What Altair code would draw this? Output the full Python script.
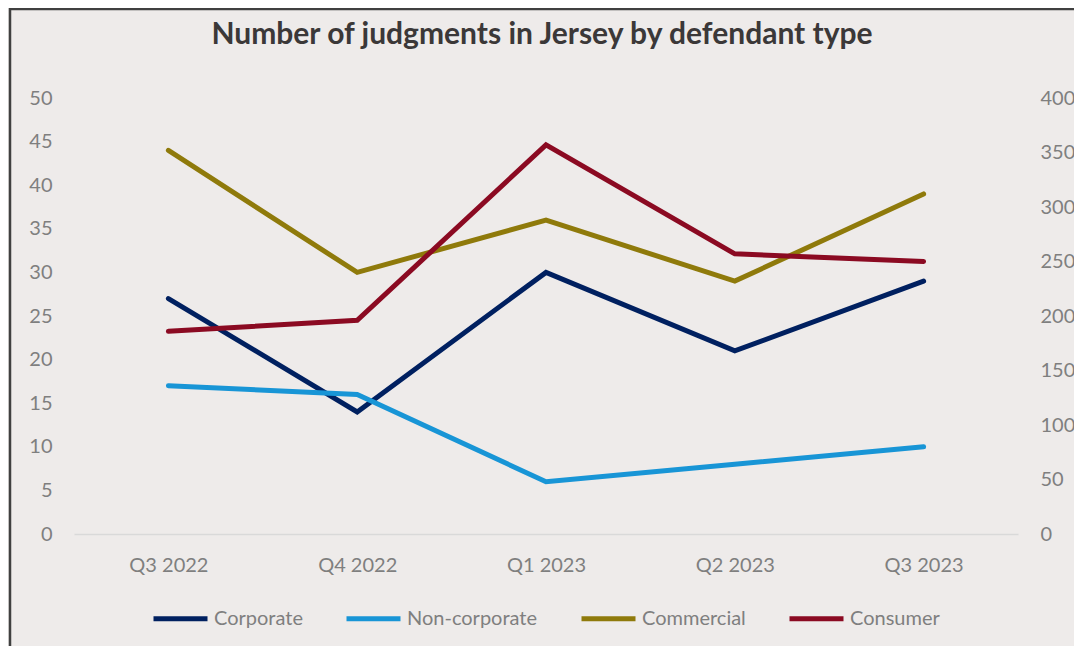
import altair as alt
import pandas as pd

quarters = ["Q3 2022", "Q4 2022", "Q1 2023", "Q2 2023", "Q3 2023"]
corporate = [27, 14, 30, 21, 29]
non_corporate = [17, 16, 6, 8, 10]
commercial = [44, 30, 36, 29, 39]
consumer = [186, 196, 357, 257, 250]

series_names = ["Corporate", "Non-corporate", "Commercial", "Consumer"]
series_colors = ["#002060", "#1895D6", "#8F7A0B", "#8B0A22"]

rows = []
for name, vals in zip(series_names, [corporate, non_corporate, commercial, consumer]):
    for q, v in zip(quarters, vals):
        rows.append({"quarter": q, "series": name, "value": v})
df = pd.DataFrame(rows)

FONT = "Lato"
GRAY = "#7f7f7f"
BG = "#EEEBEA"

x_enc = alt.X("quarter:N", sort=quarters, title=None,
              axis=alt.Axis(labelAngle=0, ticks=False, domainColor="#d9d9d9", domainWidth=1.5,
                            labelFontSize=20, labelColor=GRAY, labelFont=FONT, labelPadding=21))
color_enc = alt.Color("series:N", sort=series_names,
                      scale=alt.Scale(domain=series_names, range=series_colors),
                      legend=alt.Legend(orient="none", legendX=77, legendY=491, direction="horizontal",
                                        title=None, symbolType="stroke", symbolSize=2916,
                                        symbolStrokeWidth=5, labelFontSize=20, labelColor=GRAY,
                                        labelFont=FONT, columnPadding=33, labelOffset=4))

base = alt.Chart(df)

left = base.transform_filter(alt.datum.series != "Consumer").mark_line(strokeWidth=5, strokeCap="round").encode(
    x=x_enc,
    y=alt.Y("value:Q", title=None, scale=alt.Scale(domain=[0, 50], nice=False),
            axis=alt.Axis(values=list(range(0, 51, 5)), grid=False, domain=False, ticks=False,
                          labelFontSize=20, labelColor=GRAY, labelFont=FONT, labelPadding=22)),
    color=color_enc,
)

right = base.transform_filter(alt.datum.series == "Consumer").mark_line(strokeWidth=5, strokeCap="round").encode(
    x=x_enc,
    y=alt.Y("value:Q", title=None, scale=alt.Scale(domain=[0, 400], nice=False),
            axis=alt.Axis(orient="right", values=list(range(0, 401, 50)), grid=False, domain=False,
                          ticks=False, labelFontSize=20, labelColor=GRAY, labelFont=FONT, labelPadding=22)),
    color=color_enc,
)

border = alt.Chart(pd.DataFrame({"a": [0]})).mark_rect(fillOpacity=0, stroke="#404040", strokeWidth=2.5).encode(
    x=alt.value(-64), x2=alt.value(1100), y=alt.value(-89), y2=alt.value(700)
)

chart = alt.layer(border, left, right).resolve_scale(y="independent").properties(
    width=944, height=436,
    padding={"left": 66, "top": 90, "right": 56, "bottom": 112},
    autosize="none",
    background=BG,
    title=alt.TitleParams("Number of judgments in Jersey by defendant type", font=FONT, fontSize=30,
                          fontWeight="bold", color="#3b3838", anchor="middle", baseline="alphabetic",
                          offset=0, dy=66, dx=-4),
).configure_view(stroke=None)

chart.save("out.html", embed_options={"renderer": "svg", "actions": False})
